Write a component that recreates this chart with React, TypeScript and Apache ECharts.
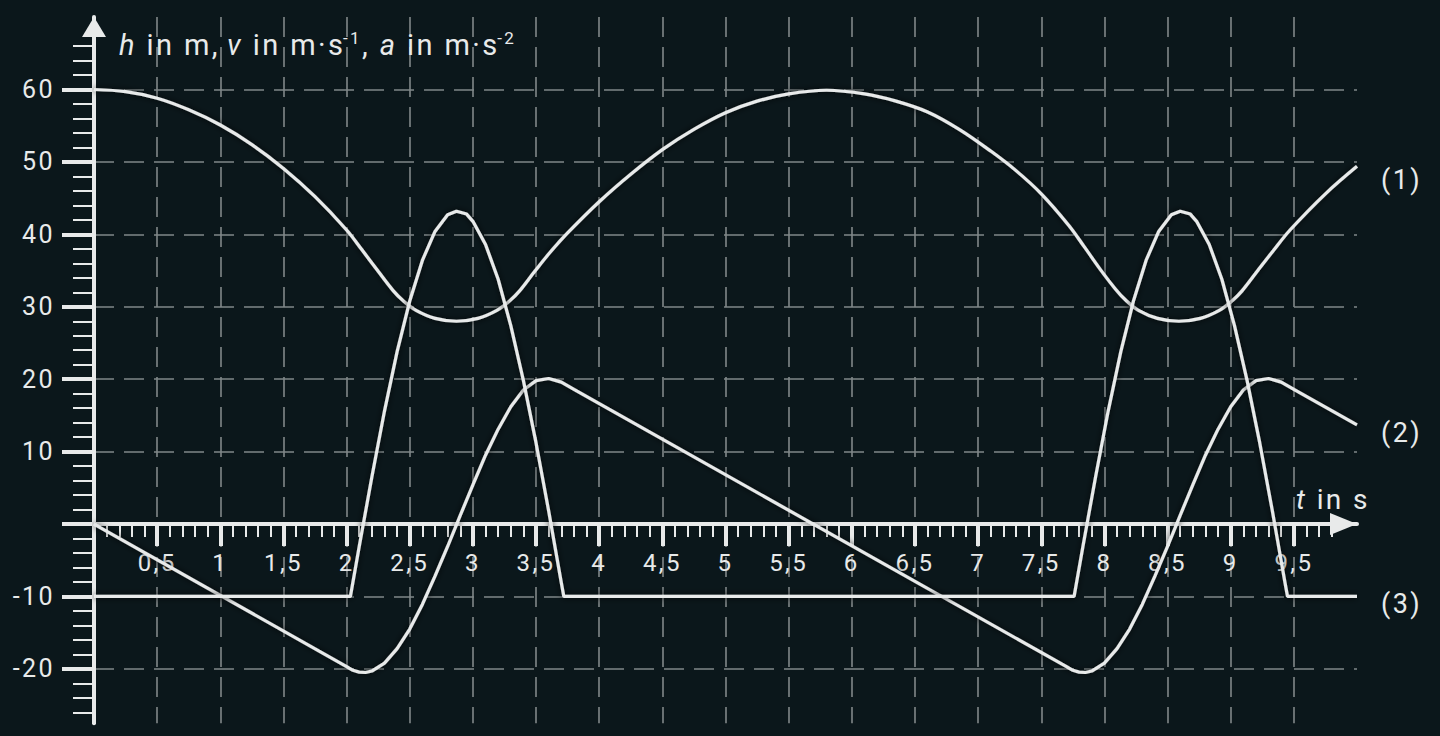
import React, { useEffect, useRef } from "react";
import * as echarts from "echarts";

// ---------- data ----------
// (1) height h in m
const heightPoints: [number, number][] = [
  [0, 60.0], [0.25, 59.7], [0.5, 58.8], [0.75, 57.2], [1.0, 55.1], [1.25, 52.4],
  [1.5, 49.1], [1.75, 45.2], [2.0, 40.6], [2.12, 37.9], [2.25, 34.9], [2.37, 32.2],
  [2.45, 30.8], [2.55, 29.5], [2.7, 28.4], [2.87, 28.0], [3.04, 28.4], [3.19, 29.5],
  [3.29, 30.8], [3.37, 32.2], [3.49, 34.9], [3.62, 37.7], [3.75, 40.2], [4.0, 44.5],
  [4.25, 48.3], [4.5, 51.7], [4.75, 54.5], [5.0, 56.8], [5.25, 58.4], [5.5, 59.4],
  [5.8, 59.9], [6.1, 59.4], [6.35, 58.4], [6.6, 56.9], [6.85, 54.5], [7.1, 51.5],
  [7.3, 48.8], [7.5, 45.6], [7.72, 41.2], [7.84, 38.3], [7.97, 35.1], [8.09, 32.4],
  [8.17, 30.9], [8.27, 29.5], [8.42, 28.4], [8.59, 28.0], [8.76, 28.4], [8.91, 29.5],
  [9.01, 30.8], [9.09, 32.2], [9.21, 34.9], [9.34, 37.8], [9.47, 40.6], [9.75, 45.6],
  [10.0, 49.4],
];

// (2) velocity v in m/s
const velocityPoints: [number, number][] = [
  [0, 0], [2.0, -19.7], [2.05, -20.2], [2.1, -20.45], [2.15, -20.5], [2.2, -20.3],
  [2.3, -19.2], [2.4, -17.2], [2.5, -14.5], [2.6, -11.1], [2.7, -7.2], [2.8, -3.1],
  [2.9, 1.2], [3.0, 5.4], [3.1, 9.5], [3.2, 13.1], [3.3, 16.2], [3.4, 18.5],
  [3.5, 19.8], [3.6, 20.1], [3.7, 19.6], [3.8, 18.6], [7.7, -19.7], [7.75, -20.2],
  [7.8, -20.45], [7.85, -20.5], [7.9, -20.3], [8.0, -19.2], [8.1, -17.2], [8.2, -14.5],
  [8.3, -11.1], [8.4, -7.2], [8.5, -3.1], [8.6, 1.2], [8.7, 5.4], [8.8, 9.5],
  [8.9, 13.1], [9.0, 16.2], [9.1, 18.5], [9.2, 19.8], [9.3, 20.1], [9.4, 19.6],
  [9.5, 18.6], [10.0, 13.7],
];

// (3) acceleration a in m/s^2
const accelerationPoints: [number, number][] = [
  [0, -10], [2.03, -10], [2.1, -3.1], [2.2, 6.5], [2.3, 15.6], [2.4, 23.8],
  [2.5, 30.8], [2.6, 36.4], [2.7, 40.4], [2.8, 42.7], [2.87, 43.2], [2.95, 42.8],
  [3.0, 41.8], [3.1, 38.6], [3.2, 33.8], [3.3, 27.4], [3.4, 19.8], [3.5, 11.2],
  [3.6, 1.8], [3.7, -8.1], [3.72, -10], [7.76, -10], [7.83, -3.1], [7.93, 6.5],
  [8.03, 15.6], [8.13, 23.8], [8.23, 30.8], [8.33, 36.4], [8.43, 40.4], [8.53, 42.7],
  [8.6, 43.2], [8.68, 42.8], [8.73, 41.8], [8.83, 38.6], [8.93, 33.8], [9.03, 27.4],
  [9.13, 19.8], [9.23, 11.2], [9.33, 1.8], [9.43, -8.1], [9.45, -10], [10, -10],
];

// ---------- axes ----------
const X_MIN = 0;
const X_MAX = 10;
const Y_MIN = -27.5;
const Y_MAX = 70;
const X_MAJOR_TICKS = [0.5, 1, 1.5, 2, 2.5, 3, 3.5, 4, 4.5, 5, 5.5, 6, 6.5, 7, 7.5, 8, 8.5, 9, 9.5];
const X_LABEL_VALUES = X_MAJOR_TICKS;
const Y_MAJOR_TICKS = [-20, -10, 0, 10, 20, 30, 40, 50, 60];
const Y_LABEL_VALUES = [-20, -10, 10, 20, 30, 40, 50, 60];
const X_MINOR_TICKS = Array.from({ length: 98 }, (_, i) => (i + 1) / 10).filter(
  (v) => Math.round(v * 10) % 5 !== 0
);
const Y_MINOR_TICKS = Array.from({ length: 47 }, (_, i) => -26 + 2 * i).filter((v) => v % 10 !== 0);

const SERIES_LABELS = ["(1)", "(2)", "(3)"];

// ---------- layout / styles ----------
const GRID_TOP = 17.1;
const GRID_BOTTOM = 12.8;
const CHART_H = 736;
// the time axis sits on value 0: shift it up from the grid bottom
const X_AXIS_OFFSET = -((CHART_H - GRID_BOTTOM - GRID_TOP) * (0 - Y_MIN)) / (Y_MAX - Y_MIN);

const BG = "#0b171b";
const INK = "#e8eaea";
const AXIS = "#e8eaea";
const GRID = "#808889";
const FONT = 'Roboto, "Noto Sans", "DejaVu Sans", sans-serif';
const LS = 2.4; // letter spacing (px) applied through CSS

const gridDash = { color: GRID, width: 1.6, type: [20, 10] as number[] };

function buildOption(): echarts.EChartsOption {
  const curve = (name: string, data: [number, number][], smooth: boolean | number) => ({
    type: "line" as const,
    name,
    data,
    xAxisIndex: 0,
    yAxisIndex: 0,
    smooth,
    showSymbol: false,
    symbol: "none",
    silent: true,
    lineStyle: {
      color: INK,
      width: 3.2,
      shadowColor: "rgba(0,0,0,0.85)",
      shadowBlur: 6,
    },
    itemStyle: { color: INK },
    emphasis: { disabled: true },
    z: 5,
  });

  return {
    animation: false,
    backgroundColor: BG,
    textStyle: { fontFamily: FONT },
    grid: {
      left: 94,
      right: 83,
      top: GRID_TOP,
      bottom: GRID_BOTTOM,
      containLabel: false,
      outerBoundsMode: "none",
    } as any,
    title: {
      left: 119,
      top: 29,
      padding: 0,
      text:
        "{it|h}{w7| in m, }{it|v}{w7| in m·s}{sup|-1}{w2|, }{it|a}{w7| in m·s}{sup|-2}",
      textStyle: {
        fontFamily: FONT,
        fontSize: 29,
        fontWeight: "normal",
        color: INK,
        rich: {
          it: { fontFamily: FONT, fontSize: 29, fontStyle: "italic", color: INK, lineHeight: 31, verticalAlign: "middle", padding: [0, LS, 0, 0] },
          w7: { fontFamily: FONT, fontSize: 29, color: INK, lineHeight: 31, verticalAlign: "middle", padding: [0, LS * 6, 0, 0] },
          w2: { fontFamily: FONT, fontSize: 29, color: INK, lineHeight: 31, verticalAlign: "middle", padding: [0, LS * 2, 0, 0] },
          sup: { fontFamily: FONT, fontSize: 17, color: INK, lineHeight: 17, verticalAlign: "top", padding: [0, LS * 2, 0, 0] },
        },
      },
    } as any,
    xAxis: [
      {
        type: "value",
        min: X_MIN,
        max: X_MAX,
        position: "bottom",
        offset: X_AXIS_OFFSET,
        axisLine: {
          show: true,
          onZero: false,
          symbol: ["none", "triangle"],
          symbolSize: [22, 27],
          symbolOffset: [0, -13.5],
          lineStyle: { color: AXIS, width: 4 },
        },
        axisTick: {
          show: true,
          inside: false,
          length: 22,
          customValues: X_MAJOR_TICKS,
          lineStyle: { color: AXIS, width: 4 },
        },
        minorTick: { show: false },
        axisLabel: {
          show: true,
          customValues: X_LABEL_VALUES,
          formatter: (v: number) => String(v).replace(".", ","),
          margin: 39,
          verticalAlign: "middle",
          color: INK,
          fontSize: 24,
          fontFamily: FONT,
        },
        splitLine: { show: true, lineStyle: gridDash },
        z: 3,
      },
      {
        type: "value",
        min: X_MIN,
        max: X_MAX,
        position: "bottom",
        offset: X_AXIS_OFFSET,
        axisLine: { show: false, onZero: false },
        axisTick: {
          show: true,
          inside: false,
          length: 13,
          customValues: X_MINOR_TICKS,
          lineStyle: { color: AXIS, width: 2 },
        },
        axisLabel: { show: false },
        splitLine: { show: false },
        z: 3,
      },
    ] as any,
    yAxis: [
      {
        type: "value",
        min: Y_MIN,
        max: Y_MAX,
        position: "left",
        axisLine: {
          show: true,
          onZero: false,
          symbol: ["none", "triangle"],
          symbolSize: [24, 20],
          symbolOffset: [0, -10],
          lineStyle: { color: AXIS, width: 4 },
        },
        axisTick: {
          show: true,
          inside: false,
          length: 32,
          customValues: Y_MAJOR_TICKS,
          lineStyle: { color: AXIS, width: 4 },
        },
        axisLabel: {
          show: true,
          customValues: Y_LABEL_VALUES,
          margin: 39,
          color: INK,
          fontSize: 25,
          fontFamily: FONT,
        },
        splitLine: { show: true, lineStyle: gridDash },
        z: 3,
      },
      {
        type: "value",
        min: Y_MIN,
        max: Y_MAX,
        position: "left",
        axisLine: { show: false, onZero: false },
        axisTick: {
          show: true,
          inside: false,
          length: 21,
          customValues: Y_MINOR_TICKS,
          lineStyle: { color: AXIS, width: 2 },
        },
        axisLabel: { show: false },
        splitLine: { show: false },
        z: 3,
      },
    ] as any,
    graphic: [
      {
        type: "text",
        x: 1296,
        y: 499,
        silent: true,
        z: 10,
        style: {
          text: "{it|t}{w5| in s}",
          fill: INK,
          fontFamily: FONT,
          fontSize: 28,
          verticalAlign: "middle",
          rich: {
            it: { fontFamily: FONT, fontSize: 28, fontStyle: "italic", fill: INK, lineHeight: 30, padding: [0, LS, 0, 0] },
            w5: { fontFamily: FONT, fontSize: 28, fill: INK, lineHeight: 30 },
          },
        },
      },
      {
        type: "text",
        x: 1381,
        y: 180,
        silent: true,
        z: 10,
        style: { text: SERIES_LABELS[0], fill: INK, fontFamily: FONT, fontSize: 27, verticalAlign: "middle" },
      },
      {
        type: "text",
        x: 1381,
        y: 432.5,
        silent: true,
        z: 10,
        style: { text: SERIES_LABELS[1], fill: INK, fontFamily: FONT, fontSize: 27, verticalAlign: "middle" },
      },
      {
        type: "text",
        x: 1381,
        y: 603.5,
        silent: true,
        z: 10,
        style: { text: SERIES_LABELS[2], fill: INK, fontFamily: FONT, fontSize: 27, verticalAlign: "middle" },
      },
    ] as any,
    series: [
      curve("h", heightPoints, 0.35),
      curve("v", velocityPoints, false),
      curve("a", accelerationPoints, false),
    ] as any,
  };
}

export default function App() {
  const ref = useRef<HTMLDivElement>(null);
  useEffect(() => {
    if (!ref.current) return;
    const chart = echarts.init(ref.current, undefined, { renderer: "svg" });
    chart.setOption(buildOption());
    return () => {
      chart.dispose();
    };
  }, []);
  return (
    <div
      ref={ref}
      style={{
        position: "fixed",
        left: 0,
        top: 0,
        width: 1440,
        height: 736,
        background: BG,
        letterSpacing: `${LS}px`,
      }}
    />
  );
}
